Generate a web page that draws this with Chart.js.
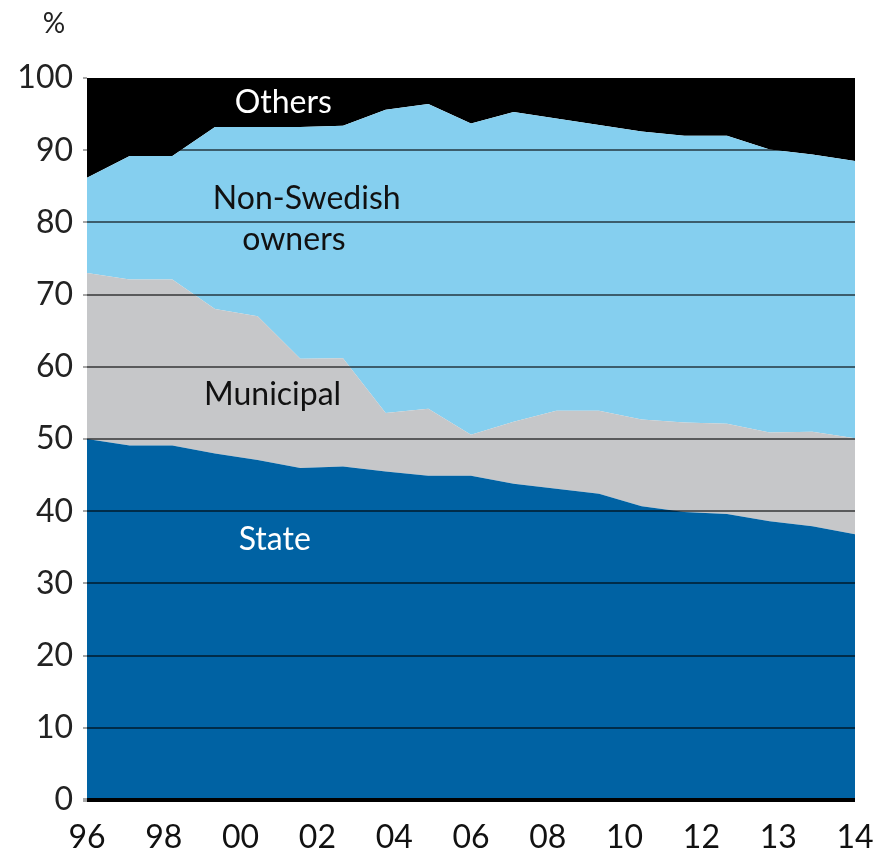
<!DOCTYPE html>
<html>
<head>
<meta charset="utf-8">
<script src="https://cdn.jsdelivr.net/npm/chart.js@4/dist/chart.umd.min.js"></script>
<style>
  html, body { margin: 0; padding: 0; background: #ffffff; }
  #wrap { width: 875px; height: 856px; position: relative; }
</style>
</head>
<body>
<div id="wrap"><canvas id="chart"></canvas></div>
<script>
// Ownership shares of the sector, per cent, 1996–2014
const years = [1996, 1997, 1998, 1999, 2000, 2001, 2002, 2003, 2004, 2005,
               2006, 2007, 2008, 2009, 2010, 2011, 2012, 2013, 2014];
const tickLabels = ['96', '98', '00', '02', '04', '06', '08', '10', '12', '13', '14'];
const yTicks = [0, 10, 20, 30, 40, 50, 60, 70, 80, 90, 100];

const state      = [50.0, 49.1, 49.1, 48.0, 47.1, 46.0, 46.2, 45.5, 44.9, 44.9,
                    43.8, 43.1, 42.4, 40.7, 39.9, 39.6, 38.6, 37.9, 36.8];
const municipal  = [23.0, 23.0, 23.0, 20.0, 19.9, 15.1, 15.0, 8.1, 9.3, 5.7,
                    8.6, 10.8, 11.5, 12.0, 12.4, 12.5, 12.3, 13.1, 13.3];
const nonSwedish = [13.2, 17.1, 17.1, 25.2, 26.2, 32.1, 32.2, 42.0, 42.2, 43.1,
                    42.9, 40.5, 39.6, 39.9, 39.7, 39.9, 39.2, 38.4, 38.4];
const others     = [13.8, 10.8, 10.8, 6.8, 6.8, 6.8, 6.6, 4.4, 3.6, 6.3,
                    4.7, 5.6, 6.5, 7.4, 8.0, 8.0, 9.9, 10.6, 11.5];

const FONT = 'Lato, "Noto Sans", sans-serif';

// In-chart series names, placed in data units (year index, percent)
const areaLabels = [
  { text: 'Others',      x: 4.6,  y: 96.6, color: '#ffffff' },
  { text: 'Non-Swedish', x: 5.15, y: 83.3, color: '#111111' },
  { text: 'owners',      x: 4.85, y: 77.6, color: '#111111' },
  { text: 'Municipal',   x: 4.35, y: 56.2, color: '#111111' },
  { text: 'State',       x: 4.4,  y: 36.1, color: '#ffffff' }
];

const labelPlugin = {
  id: 'areaLabels',
  afterDraw(chart) {
    const ctx = chart.ctx;
    const xs = chart.scales.x, ys = chart.scales.y;
    ctx.save();
    ctx.font = '32px ' + FONT;
    ctx.textAlign = 'center';
    ctx.textBaseline = 'middle';
    areaLabels.forEach(l => {
      ctx.fillStyle = l.color;
      ctx.fillText(l.text, xs.getPixelForValue(l.x), ys.getPixelForValue(l.y));
    });
    // unit marker above the value axis
    ctx.fillStyle = '#222222';
    ctx.font = '28px ' + FONT;
    ctx.fillText('%', 54, 24);
    ctx.restore();
  }
};

function area(label, data, color, fill) {
  return {
    label, data, fill,
    backgroundColor: color,
    borderWidth: 0,
    pointRadius: 0,
    pointHoverRadius: 0,
    tension: 0
  };
}

new Chart(document.getElementById('chart'), {
  type: 'line',
  data: {
    labels: years,
    datasets: [
      area('State', state, '#0062a3', 'origin'),
      area('Municipal', municipal, '#c6c7c9', '-1'),
      area('Non-Swedish owners', nonSwedish, '#85cfef', '-1'),
      area('Others', others, '#000000', '-1')
    ]
  },
  options: {
    responsive: true,
    maintainAspectRatio: false,
    animation: false,
    events: [],
    layout: { padding: { top: 78, right: 20, left: 0, bottom: 0 } },
    plugins: {
      legend: { display: false },
      tooltip: { enabled: false }
    },
    scales: {
      x: {
        type: 'category',
        display: false,
        offset: false
      },
      xt: {
        type: 'category',
        position: 'bottom',
        labels: tickLabels,
        offset: false,
        grid: { display: false, drawTicks: false },
        border: { display: false },
        ticks: {
          autoSkip: false,
          maxRotation: 0,
          padding: 18,
          color: '#111111',
          font: { family: FONT, size: 32 }
        },
        afterFit(scale) {
          scale.height = 56;
          scale.paddingLeft = 0;
          scale.paddingRight = 0;
        }
      },
      y: {
        stacked: true,
        min: 0,
        max: 100,
        afterBuildTicks(scale) { scale.ticks = yTicks.map(v => ({ value: v })); },
        grid: {
          z: 1,
          color: c => c.tick && c.tick.value === 0 ? '#000000' :
                      (c.tick && c.tick.value === 100 ? 'rgba(0,0,0,0)' : 'rgba(0,0,0,0.55)'),
          lineWidth: c => c.tick && c.tick.value === 0 ? 4 : 2,
          tickColor: 'rgba(0,0,0,0.35)',
          tickLength: 4,
          drawTicks: true
        },
        border: { display: false },
        ticks: {
          padding: 10,
          color: '#222222',
          font: { family: FONT, size: 32 }
        },
        afterFit(scale) {
          scale.width = 87;
          scale.paddingTop = 0;
          scale.paddingBottom = 0;
        }
      }
    }
  },
  plugins: [labelPlugin]
});
</script>
</body>
</html>
